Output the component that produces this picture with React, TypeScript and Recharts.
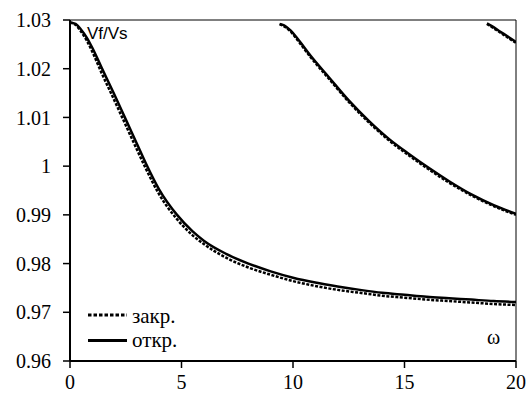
import React from "react";
import { LineChart, Line, XAxis, YAxis, ReferenceLine } from "recharts";

// x values (ω) and Vf/Vs values
const mainX = [0, 0.25, 0.5, 0.75, 1, 1.4, 2, 2.5, 3, 3.4, 4, 4.8, 5.5, 6, 7, 8, 9, 10, 11, 12, 13, 14, 15, 16, 17, 18, 19, 20];
const mainOpen = [1.0295, 1.0292, 1.028, 1.0264, 1.0243, 1.0204, 1.0146, 1.0096, 1.0046, 1.0006, 0.9952, 0.99, 0.9866, 0.9847, 0.982, 0.98, 0.9784, 0.9771, 0.9761, 0.9753, 0.9746, 0.974, 0.9736, 0.9732, 0.9729, 0.9726, 0.9723, 0.9721];
const mainClosed = [1.0295, 1.029, 1.0276, 1.0258, 1.0235, 1.0193, 1.0134, 1.0084, 1.0034, 0.9995, 0.9942, 0.9891, 0.9858, 0.984, 0.9812, 0.9792, 0.9777, 0.9764, 0.9754, 0.9746, 0.974, 0.9734, 0.973, 0.9726, 0.9723, 0.972, 0.9717, 0.9715];

const secondX = [9.4, 9.6, 9.9, 10.2, 10.8, 11.6, 12.5, 13.4, 14.3, 15.2, 16.1, 17, 18, 19, 20];
const secondOpen = [1.0292, 1.0289, 1.0278, 1.0262, 1.0226, 1.0183, 1.0135, 1.0093, 1.0056, 1.0025, 0.9996, 0.9969, 0.9942, 0.992, 0.9902];
const secondClosed = [1.0291, 1.0287, 1.0276, 1.0259, 1.0223, 1.018, 1.0132, 1.009, 1.0053, 1.0022, 0.9993, 0.9966, 0.994, 0.9918, 0.99];

const thirdX = [18.7, 18.9, 19.3, 19.6, 20];
const thirdOpen = [1.0293, 1.0288, 1.0276, 1.0267, 1.0255];
const thirdClosed = [1.0292, 1.0286, 1.0274, 1.0265, 1.0253];

const xTicks = [0, 5, 10, 15, 20];
const yTicks = [0.96, 0.97, 0.98, 0.99, 1.0, 1.01, 1.02, 1.03];

const legendLabels = ["закр.", "откр."];
const yLabel = "Vf/Vs";
const xLabel = "ω";

const toRows = (xs: number[], ys: number[]) => xs.map((x, i) => ({ x, v: ys[i] }));

const serif = "Liberation Serif";
const sans = "Liberation Sans";
const tickStyle = { fontSize: 20, fill: "#000", fontFamily: serif };

const fmtY = (v: number) => {
  const r = Math.round(v * 100) / 100;
  return String(r);
};

const closedDash = "3 1.5";

export default function App() {
  const series = [
    { key: "mc", data: toRows(mainX, mainClosed), dash: closedDash },
    { key: "mo", data: toRows(mainX, mainOpen), dash: undefined },
    { key: "sc", data: toRows(secondX, secondClosed), dash: closedDash },
    { key: "so", data: toRows(secondX, secondOpen), dash: undefined },
    { key: "tc", data: toRows(thirdX, thirdClosed), dash: closedDash },
    { key: "to", data: toRows(thirdX, thirdOpen), dash: undefined },
  ];
  return (
    <div style={{ position: "absolute", left: 0, top: 0, width: 530, height: 394, background: "#fff" }}>
      <LineChart width={530} height={394} margin={{ top: 20, right: 14, bottom: 0, left: 0 }}>
        <XAxis
          type="number"
          dataKey="x"
          domain={[0, 20]}
          ticks={xTicks}
          allowDataOverflow
          height={33}
          tickSize={7}
          tickMargin={7}
          tick={tickStyle}
          axisLine={{ stroke: "#000", strokeWidth: 2 }}
          tickLine={{ stroke: "#000", strokeWidth: 1.5 }}
        />
        <YAxis
          type="number"
          dataKey="v"
          domain={[0.96, 1.03]}
          ticks={yTicks}
          allowDataOverflow
          width={70}
          tickSize={7}
          tickMargin={12}
          tickFormatter={fmtY}
          tick={tickStyle}
          axisLine={{ stroke: "#000", strokeWidth: 2 }}
          tickLine={{ stroke: "#000", strokeWidth: 1.5 }}
        />
        <ReferenceLine y={1.03} stroke="#000" strokeWidth={1} />
        <ReferenceLine x={20} stroke="#000" strokeWidth={1} />
        {series.map((s) => (
          <Line
            key={s.key}
            data={s.data}
            dataKey="v"
            type="monotone"
            stroke="#000"
            strokeWidth={2.5}
            strokeDasharray={s.dash}
            dot={false}
            activeDot={false}
            isAnimationActive={false}
          />
        ))}
      </LineChart>
      <svg
        width={530}
        height={394}
        style={{ position: "absolute", left: 0, top: 0, pointerEvents: "none" }}
      >
        <text x={87} y={38.5} fontSize={17} fill="#000" fontFamily={sans}>
          {yLabel}
        </text>
        <text x={487} y={343.5} fontSize={20} fill="#000" fontFamily={serif}>
          {xLabel}
        </text>
        <line x1={88} x2={127} y1={315} y2={315} stroke="#000" strokeWidth={3} strokeDasharray="3.5 2" />
        <text x={132} y={322.5} fontSize={21} fill="#000" fontFamily={serif}>
          {legendLabels[0]}
        </text>
        <line x1={88} x2={127} y1={340.5} y2={340.5} stroke="#000" strokeWidth={3} />
        <text x={132} y={346.5} fontSize={21} fill="#000" fontFamily={serif}>
          {legendLabels[1]}
        </text>
      </svg>
    </div>
  );
}
